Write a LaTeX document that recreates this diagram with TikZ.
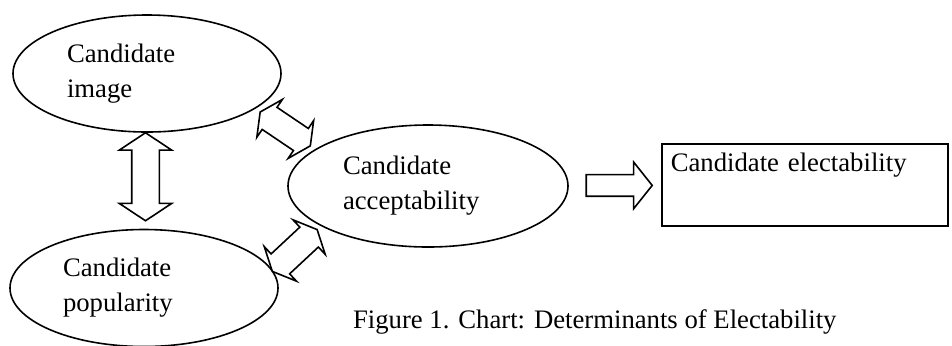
\documentclass[tikz,border=0pt]{standalone}
\usepackage{fontspec}
\setmainfont{Liberation Serif}
\usetikzlibrary{shapes.geometric,shapes.arrows,calc}

\tikzset{
    oval/.style={draw, ellipse, line width=0.8pt, inner sep=0pt, align=left},
    textbox/.style={draw, rectangle, line width=0.8pt, align=left},
    dblblock/.style={draw, double arrow, line width=0.8pt, inner xsep=0pt, minimum width=0pt},
    oneblock/.style={draw, single arrow, line width=0.8pt, inner xsep=0pt, minimum width=0pt},
}

\begin{document}
\begin{tikzpicture}[x=0.5pt, y=-0.5pt, font=\fontsize{13.35}{17.5}\selectfont]
        \useasboundingbox (0, 0) rectangle (952, 345);
        % determinants
        \node[oval, minimum width=134pt, minimum height=58.5pt, text width=80pt] (img) at (147, 73.5) {Candidate\\image};
        \node[oval, minimum width=134pt, minimum height=58.5pt, text width=81pt] (pop) at (144, 288) {Candidate\\popularity};
        \node[oval, minimum width=140pt, minimum height=61pt, text width=85pt] (acc) at (428, 186) {Candidate\\acceptability};
        \node[textbox, anchor=north west, inner xsep=4.5pt, inner ysep=4pt, text width=134pt, text height=10pt, text depth=23pt] (elect) at (661, 143) {Candidate electability};
        \node[anchor=base west] (caption) at (346, 328) {Figure 1. Chart: Determinants of Electability};
        % block arrows
        \node[dblblock, rotate=90, xshift=2pt, minimum height=44pt, inner ysep=6.5pt, double arrow head extend=6.25pt, double arrow tip angle=113] (imgpop) at ($(img.south)!0.5!(pop.north)$) {};
        \node[dblblock, rotate=-34, minimum height=30.25pt, inner ysep=6.25pt, double arrow head extend=4.75pt, double arrow tip angle=127] (imgacc) at ($(img.-20)!0.5!(acc.160)$) {};
        \node[dblblock, rotate=43, minimum height=30.65pt, inner ysep=6.4pt, double arrow head extend=5pt, double arrow tip angle=130] (popacc) at ($(pop.8)!0.45!(acc.-159)$) {};
        \node[oneblock, minimum height=33pt, inner ysep=5pt, single arrow head extend=6.25pt, single arrow tip angle=103] (accelect) at ($(acc.east)!0.5!(elect.west)$) {};
\end{tikzpicture}
\end{document}
